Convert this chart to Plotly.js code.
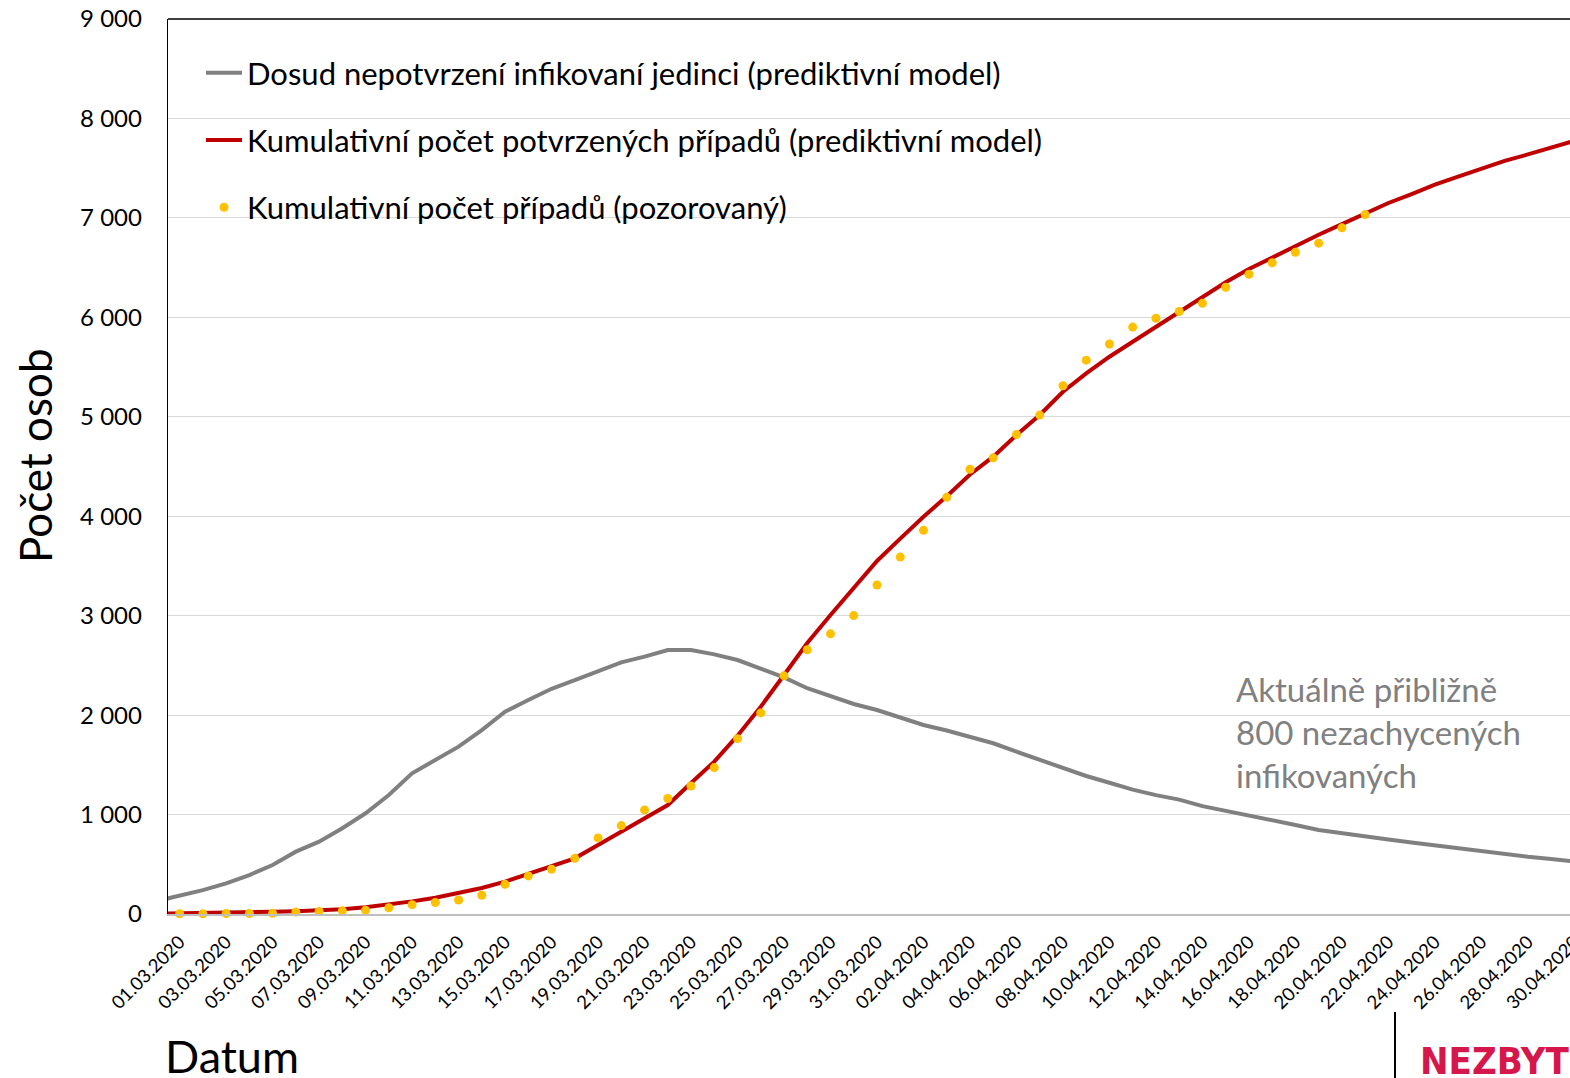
<!DOCTYPE html>
<html><head><meta charset="utf-8">
<script src="https://cdn.plot.ly/plotly-3.0.1.min.js"></script>
<style>html,body{margin:0;padding:0;overflow:hidden;background:#fff}#chart{width:1600px;height:1078px}</style>
</head><body><div id="chart"></div>
<script>
// Model series dates (29.02.2020 – 30.04.2020)
const modelDates = ['2020-02-29',
 '2020-03-01','2020-03-02','2020-03-03','2020-03-04','2020-03-05','2020-03-06','2020-03-07','2020-03-08','2020-03-09','2020-03-10',
 '2020-03-11','2020-03-12','2020-03-13','2020-03-14','2020-03-15','2020-03-16','2020-03-17','2020-03-18','2020-03-19','2020-03-20',
 '2020-03-21','2020-03-22','2020-03-23','2020-03-24','2020-03-25','2020-03-26','2020-03-27','2020-03-28','2020-03-29','2020-03-30','2020-03-31',
 '2020-04-01','2020-04-02','2020-04-03','2020-04-04','2020-04-05','2020-04-06','2020-04-07','2020-04-08','2020-04-09','2020-04-10',
 '2020-04-11','2020-04-12','2020-04-13','2020-04-14','2020-04-15','2020-04-16','2020-04-17','2020-04-18','2020-04-19','2020-04-20',
 '2020-04-21','2020-04-22','2020-04-23','2020-04-24','2020-04-25','2020-04-26','2020-04-27','2020-04-28','2020-04-29','2020-04-30'];

// Dosud nepotvrzení infikovaní jedinci (prediktivní model)
const undetectedModel = [130,
 185,240,308,392,493,627,727,862,1013,1197,
 1415,1549,1683,1850,2034,2152,2265,2353,2444,2531,
 2588,2655,2655,2611,2554,2471,2380,2270,2192,2112,2051,
 1978,1901,1845,1783,1717,1632,1549,1465,1388,1320,
 1250,1195,1150,1085,1035,985,935,895,845,810,
 780,750,720,690,660,630,601,575,553,528];

// Kumulativní počet potvrzených případů (prediktivní model)
const confirmedModel = [3,
 5,8,12,17,23,28,35,47,67,94,
 127,164,208,262,325,400,478,560,694,828,
 955,1096,1317,1532,1793,2085,2403,2725,3007,3278,3550,
 3775,3995,4200,4420,4599,4817,5018,5252,5437,5604,
 5755,5906,6050,6205,6352,6486,6601,6724,6830,6937,
 7043,7150,7240,7335,7415,7494,7574,7638,7706,7775];

// Kumulativní počet případů (pozorovaný) 01.03.2020 – 21.04.2020
const observedDates = modelDates.slice(1, 53);
const observedCases = [3,3,5,5,8,19,26,32,38,63,
 94,116,141,189,298,383,450,560,765,889,
 1047,1161,1287,1472,1763,2022,2395,2657,2817,3001,3308,
 3589,3858,4190,4472,4587,4822,5017,5312,5569,5732,
 5902,5991,6059,6141,6303,6433,6549,6654,6746,6900,7033];

const seriesNames = [
 'Dosud nepotvrzení infikovaní jedinci (prediktivní model)',
 'Kumulativní počet potvrzených případů (prediktivní model)',
 'Kumulativní počet případů (pozorovaný)'];
const noteText = ['Aktuálně přibližně', '800 nezachycených', 'infikovaných'];
const yTitle = 'Počet osob';
const xTitle = 'Datum';
const logoText = 'NEZBYT';

const FONT = 'Lato, "Open Sans", sans-serif';
const L = 168, PW = 1418, T = 19, PH = 895;
const px = x => (x - L) / PW;
const py = y => (T + PH - y) / PH;

const traces = [
 {x: modelDates, y: undetectedModel, name: seriesNames[0], type: 'scatter', mode: 'lines',
  line: {color: '#808080', width: 4}, legendgroup: 'a'},
 {x: modelDates, y: confirmedModel, name: seriesNames[1], type: 'scatter', mode: 'lines',
  line: {color: '#c00000', width: 4}, legendgroup: 'b'},
 {x: observedDates, y: observedCases, name: seriesNames[2], type: 'scatter', mode: 'markers',
  marker: {color: '#ffc000', size: 9}, legendgroup: 'c', cliponaxis: false}
];

const layout = {
 width: 1600, height: 1078,
 margin: {l: L, r: 1600 - L - PW, t: T, b: 1078 - T - PH},
 paper_bgcolor: '#fff', plot_bgcolor: '#fff',
 font: {family: FONT, color: '#000'},
 separators: ', ',
 showlegend: true,
 legend: {x: px(201), y: py(46), xanchor: 'left', yanchor: 'top',
  font: {size: 31, family: FONT, color: '#000'}, bgcolor: 'rgba(0,0,0,0)',
  itemwidth: 36, tracegroupgap: 24, traceorder: 'grouped'},
 xaxis: {type: 'date', range: ['2020-02-29 12:00', '2020-04-30 12:00'],
  tick0: '2020-03-01', dtick: 2 * 86400000, tickformat: '%d.%m.%Y',
  tickangle: -45, tickfont: {size: 18.5, family: FONT, color: '#000'},
  showgrid: false, zeroline: false, showline: true, linecolor: '#bfbfbf', linewidth: 2,
  ticks: '', ticklabelstandoff: 8, fixedrange: true},
 yaxis: {range: [0, 9000], dtick: 1000, tickformat: ',d',
  tickfont: {size: 24, family: FONT, color: '#000'},
  showgrid: true, gridcolor: '#d9d9d9', gridwidth: 1, zeroline: false,
  showline: true, linecolor: '#000', linewidth: 1.3, ticks: '', ticklabelstandoff: 20, fixedrange: true},
 shapes: [
  {type: 'line', xref: 'paper', yref: 'paper', x0: 0, x1: 1, y0: 1, y1: 1, line: {color: '#000', width: 1.3}},
  {type: 'line', xref: 'paper', yref: 'paper', x0: px(1395), x1: px(1395), y0: py(1012), y1: py(1080), line: {color: '#000', width: 2}}
 ],
 annotations: [
  {xref: 'paper', yref: 'paper', x: px(1234), y: py(732), xanchor: 'left', yanchor: 'middle', align: 'left',
   text: noteText.join('<br>'), showarrow: false, font: {size: 33, family: FONT, color: '#808080'}},
  {xref: 'paper', yref: 'paper', x: px(35), y: py(456), xanchor: 'center', yanchor: 'middle', textangle: -90,
   text: yTitle, showarrow: false, font: {size: 44, family: FONT, color: '#000'}},
  {xref: 'paper', yref: 'paper', x: px(163), y: py(1056), xanchor: 'left', yanchor: 'middle',
   text: xTitle, showarrow: false, font: {size: 45, family: FONT, color: '#000'}},
  {xref: 'paper', yref: 'paper', x: px(1418), y: py(1061), xanchor: 'left', yanchor: 'middle',
   text: '<b>' + logoText + '</b>', showarrow: false, font: {size: 38, family: '"DejaVu Sans Condensed", "DejaVu Sans", sans-serif', color: '#d6174b'}}
 ]
};

Plotly.newPlot('chart', traces, layout, {displayModeBar: false, staticPlot: true});
</script></body></html>
